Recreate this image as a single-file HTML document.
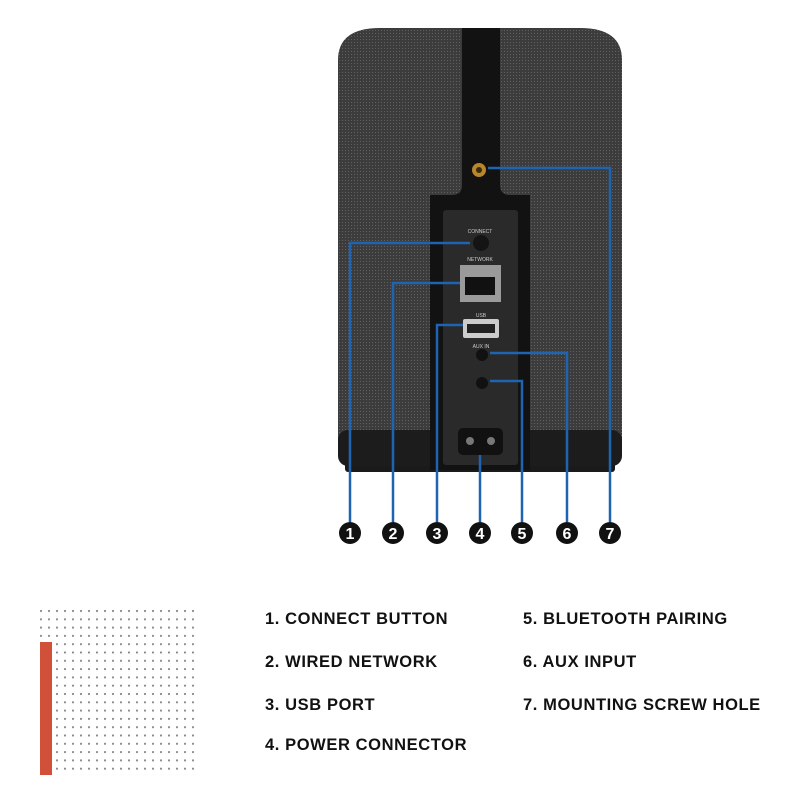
<!DOCTYPE html>
<html><head><style>
body{margin:0;width:800px;height:800px;background:#fff;overflow:hidden;font-family:"Liberation Sans",sans-serif}
.t{position:absolute;font-weight:bold;font-size:16.5px;color:#111;letter-spacing:0.6px}
</style></head><body>
<svg width="800" height="800" style="position:absolute;left:0;top:0">
<defs>
<pattern id="dots" x="40" y="610" width="8" height="8.3" patternUnits="userSpaceOnUse"><circle cx="1" cy="1" r="1.1" fill="#8a8a8a"/></pattern>
<pattern id="fab" width="3" height="3" patternUnits="userSpaceOnUse"><rect width="3" height="3" fill="#3c3c3c"/><rect width="1" height="1" fill="#606060"/></pattern>
</defs>
<rect x="40" y="609" width="155" height="166" fill="url(#dots)"/>
<rect x="40" y="642" width="12" height="133" fill="#d0503a"/>
<rect x="345" y="460" width="270" height="12" rx="3" fill="#1a1a1a"/>
<path d="M338 60 Q338 28 380 28 L580 28 Q622 28 622 60 L622 440 Q622 466 596 466 L364 466 Q338 466 338 440 Z" fill="url(#fab)"/>
<rect x="338" y="430" width="284" height="36" rx="10" fill="#1c1c1c"/>
<path d="M462 28 L500 28 L500 185 Q500 195 510 195 L530 195 L530 470 L430 470 L430 195 L452 195 Q462 195 462 185 Z" fill="#121212"/>
<rect x="443" y="210" width="75" height="255" rx="3" fill="#2a2a2a"/>
<circle cx="479" cy="170" r="7" fill="#b8862b"/><circle cx="479" cy="170" r="3" fill="#3a2a10"/>
<text x="480" y="233" font-size="5" fill="#ccc" text-anchor="middle">CONNECT</text>
<circle cx="481" cy="243" r="8" fill="#141414"/>
<text x="480" y="261" font-size="5" fill="#ccc" text-anchor="middle">NETWORK</text>
<rect x="460" y="265" width="41" height="37" fill="#9a9a9a"/><rect x="465" y="277" width="30" height="18" fill="#111"/>
<text x="481" y="317" font-size="5" fill="#ccc" text-anchor="middle">USB</text>
<rect x="463" y="319" width="36" height="19" rx="2" fill="#ccc"/><rect x="467" y="324" width="28" height="9" fill="#222"/>
<text x="481" y="348" font-size="5" fill="#ccc" text-anchor="middle">AUX IN</text>
<circle cx="482" cy="355" r="6" fill="#111"/>
<circle cx="482" cy="383" r="6" fill="#111"/>
<rect x="458" y="428" width="45" height="27" rx="5" fill="#111"/>
<circle cx="470" cy="441" r="4" fill="#777"/><circle cx="491" cy="441" r="4" fill="#777"/>
<g fill="none" stroke="#1f64b0" stroke-width="2.5">
<path d="M470 243 H350 V522"/>
<path d="M460 283 H393 V522"/>
<path d="M463 325 H437 V522"/>
<path d="M480 455 V522"/>
<path d="M490 381 H522 V522"/>
<path d="M490 353 H567 V522"/>
<path d="M488 168 H610 V522"/>
</g>
<g font-size="16" font-weight="bold" fill="#fff" text-anchor="middle">
<circle cx="350" cy="533" r="11" fill="#111"/><text x="350" y="539">1</text>
<circle cx="393" cy="533" r="11" fill="#111"/><text x="393" y="539">2</text>
<circle cx="437" cy="533" r="11" fill="#111"/><text x="437" y="539">3</text>
<circle cx="480" cy="533" r="11" fill="#111"/><text x="480" y="539">4</text>
<circle cx="522" cy="533" r="11" fill="#111"/><text x="522" y="539">5</text>
<circle cx="567" cy="533" r="11" fill="#111"/><text x="567" y="539">6</text>
<circle cx="610" cy="533" r="11" fill="#111"/><text x="610" y="539">7</text>
</g>
</svg>
<div class="t" style="left:265px;top:610px">1. CONNECT BUTTON</div>
<div class="t" style="left:265px;top:653px">2. WIRED NETWORK</div>
<div class="t" style="left:265px;top:696px">3. USB PORT</div>
<div class="t" style="left:265px;top:736px">4. POWER CONNECTOR</div>
<div class="t" style="left:523px;top:610px">5. BLUETOOTH PAIRING</div>
<div class="t" style="left:523px;top:653px">6. AUX INPUT</div>
<div class="t" style="left:523px;top:696px">7. MOUNTING SCREW HOLE</div>
</body></html>
